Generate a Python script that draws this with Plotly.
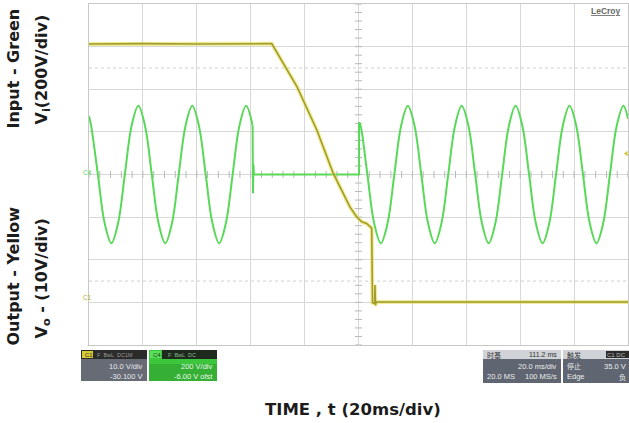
import numpy as np
import plotly.graph_objects as go

# ---- canvas geometry (pixels) ----
W, H = 629, 423
L, R, T, B = 89, 1, 4, 78
PW, PH = W - L - R, H - T - B


def px(x):
    return (x - L) / PW


def py(y):
    return (H - B - y) / PH


# ---- data ----
# time in ms (20 ms/div, 10 div)
# input V_i (green, 200 V/div) : sine before interruption
vin_t_a = [0.0, 0.8, 3.3, 5.8, 8.3, 10.8, 13.3, 15.8, 18.3, 20.8, 23.3, 25.8, 28.3,
           30.8, 33.3, 35.8, 38.3, 40.8, 43.3, 45.8, 48.3, 50.8, 53.3, 55.8, 58.3, 60.7]
vin_v_a = [275, 228, 0, -228, -322, -228, 0, 228, 322, 228, 0, -228, -322,
           -228, 0, 228, 322, 228, 0, -228, -322, -228, 0, 228, 322, 230]

# input during the interruption (switch-off transient, flat, switch-on)
vin_t_b = [60.7, 60.85, 61.05, 61.2, 100.2, 100.2]
vin_v_b = [230, -88, 45, 0, 0, 245]

# input after the supply returns
vin_t_c = [100.2, 100.8, 103.3, 105.8, 108.3, 110.8, 113.3, 115.8, 118.3,
           120.8, 123.3, 125.8, 128.3, 130.8, 133.3, 135.8, 138.3,
           140.8, 143.3, 145.8, 148.3, 150.8, 153.3, 155.8, 158.3,
           160.8, 163.3, 165.8, 168.3, 170.8, 173.3, 175.8, 178.3,
           180.8, 183.3, 185.8, 188.3, 190.8, 193.3, 195.8, 198.3, 200.0]
vin_v_c = [245, 228, 0, -228, -322, -228, 0, 228, 322,
           228, 0, -228, -322, -228, 0, 228, 322,
           228, 0, -228, -322, -228, 0, 228, 322,
           228, 0, -228, -322, -228, 0, 228, 322,
           228, 0, -228, -322, -228, 0, 228, 322, 262]

# output V_o (yellow, 10 V/div, offset -30.1 V)
vout_t = [0.0, 20.0, 40.0, 60.0, 67.8, 77.1, 84.5, 90.6, 96.8, 99.3, 101.2, 103.0,
          104.9, 105.2, 106.0, 106.1, 106.3, 106.6, 150.0, 200.0]
vout_v = [60.7, 60.8, 60.7, 60.8, 60.8, 50.8, 40.6, 30.4, 22.5, 20.2, 19.0, 18.6,
          17.5, 0.0, -0.2, 4.2, -0.6, 0.2, 0.2, 0.2]

trig_level = 35.0

GREEN = "#5ad85a"
YEL_CORE = "#a39b2c"
YEL_GLOW = "rgba(225,220,70,0.55)"
GRID = "#d8d8d8"

fig = go.Figure()

# graticule tick marks on the centre lines
cx = np.arange(0, 200.01, 4.0)
fig.add_trace(go.Scatter(x=cx, y=np.zeros_like(cx), mode="markers",
                         marker=dict(symbol="line-ns", size=5,
                                     line=dict(color="#b8b8b8", width=1)),
                         hoverinfo="skip", showlegend=False))
cy = np.arange(-800, 800.1, 40.0)
fig.add_trace(go.Scatter(x=np.full_like(cy, 100.0), y=cy, mode="markers",
                         marker=dict(symbol="line-ew", size=5,
                                     line=dict(color="#b8b8b8", width=1)),
                         hoverinfo="skip", showlegend=False))

# input traces (green)
for tt, vv, shape in [(vin_t_a, vin_v_a, "spline"),
                      (vin_t_b, vin_v_b, "linear"),
                      (vin_t_c, vin_v_c, "spline")]:
    fig.add_trace(go.Scatter(x=tt, y=vv, mode="lines",
                             line=dict(color=GREEN, width=2, shape=shape),
                             hoverinfo="skip", showlegend=False))

# output trace (yellow) with soft glow
fig.add_trace(go.Scatter(x=vout_t, y=vout_v, mode="lines", yaxis="y2",
                         line=dict(color=YEL_GLOW, width=4),
                         hoverinfo="skip", showlegend=False))
fig.add_trace(go.Scatter(x=vout_t, y=vout_v, mode="lines", yaxis="y2",
                         line=dict(color=YEL_CORE, width=1.6),
                         hoverinfo="skip", showlegend=False))

# trigger level marker
fig.add_trace(go.Scatter(x=[199.4], y=[trig_level], mode="markers", yaxis="y2",
                         marker=dict(symbol="triangle-left", size=5, color="#d6c83a"),
                         hoverinfo="skip", showlegend=False, cliponaxis=False))

shapes = []
# centre cross lines
shapes.append(dict(type="line", xref="x", yref="y", x0=0, x1=200, y0=0, y1=0,
                   line=dict(color="#c4c4c4", width=1), layer="below"))
shapes.append(dict(type="line", xref="x", yref="y", x0=100, x1=100, y0=-800, y1=800,
                   line=dict(color="#c4c4c4", width=1), layer="below"))
# dotted reference lines at +/-2.5 div
for lv in (500, -500):
    shapes.append(dict(type="line", xref="x", yref="y", x0=0, x1=200, y0=lv, y1=lv,
                       line=dict(color="#cfcfcf", width=1, dash="dot"), layer="below"))


def box(x0, y0, x1, y1, fill, line=None):
    shapes.append(dict(type="rect", xref="paper", yref="paper",
                       x0=px(x0), x1=px(x1), y0=py(y1), y1=py(y0),
                       fillcolor=fill, line=dict(width=0 if line is None else 1,
                                                 color=line or fill)))


annotations = []


def label(x, y, text, size=7, color="#f0f0f0", xanchor="left", family="Arial",
          angle=0, bold=False):
    annotations.append(dict(xref="paper", yref="paper", x=px(x), y=py(y),
                            text=text, showarrow=False, xanchor=xanchor,
                            yanchor="middle", textangle=angle,
                            font=dict(size=size, color=color, family=family,
                                      weight="bold" if bold else "normal")))


# channel 1 readout
box(81, 350, 147, 381, "#666b76")
box(81, 350, 147, 359, "#2b2b2b")
box(82, 351, 93, 358, "#d9c935")
label(83, 354.5, "C1", 6, "#333")
label(95, 354.5, "F  BwL  DC1M", 5.5, "#9a9a9a")
label(145, 366.5, "10.0 V/div", 7.5, "#e9e9e9", "right")
label(145, 376.5, "-30.100 V", 7.5, "#e9e9e9", "right")

# channel 4 readout
box(149, 350, 217, 381, "#3cc63c")
box(149, 364, 217, 381, "#35b035")
box(162, 350, 217, 359, "#1f2a1f")
box(150, 351, 161, 358, "#58e058")
label(151, 354.5, "C4", 6, "#1a3a1a")
label(166, 354.5, "F  BwL  DC", 5.5, "#8ab88a")
label(215, 366.5, "200 V/div", 7.5, "#e8f8e8", "right")
label(215, 376.5, "-6.00 V ofst", 7.5, "#e8f8e8", "right")

# timebase readout
box(483, 350, 561, 383, "#5f6571")
box(483, 350, 561, 359, "#cfd2d6")
label(485, 354.5, "时基", 7, "#333", family="Noto Sans CJK SC")
label(559, 354.5, "111.2 ms", 7, "#333", "right")
label(559, 366, "20.0 ms/div", 7.5, "#eeeeee", "right")
label(485, 376.5, "20.0 MS", 7.5, "#eeeeee")
label(559, 376.5, "100 MS/s", 7.5, "#eeeeee", "right")

# trigger readout
box(563, 350, 629, 383, "#5f6571")
box(563, 350, 629, 359, "#cfd2d6")
box(606, 351, 629, 358, "#2b2b2b")
label(565, 354.5, "触发", 7, "#333", family="Noto Sans CJK SC")
label(628, 354.5, "C1 DC", 6, "#bbbbbb", "right")
label(565, 366, "停止", 7, "#eeeeee", family="Noto Sans CJK SC")
label(628, 366, "35.0 V", 7.5, "#eeeeee", "right")
label(565, 376.5, "Edge", 7.5, "#eeeeee")
label(628, 376.5, "负", 7, "#eeeeee", "right", family="Noto Sans CJK SC")

# channel ground markers and brand
label(81, 172, "C4", 6.5, "#5ad85a")
label(81, 297, "C1", 6.5, "#b8ae30")
label(623, 11, "<u>LeCroy</u>", 8.5, "#6a6a6a", "right", bold=True)

# axis captions
TXT = "#1c1c1c"
FONT = "DejaVu Sans"
label(12.5, 69, "Input - Green", 16, TXT, "center", FONT, -90, True)
label(41.5, 70, "V<sub>i</sub>(200V/div)", 16, TXT, "center", FONT, -90, True)
label(12.5, 276, "Output - Yellow", 16, TXT, "center", FONT, -90, True)
label(41.5, 279, "V<sub>o</sub> - (10V/div)", 16, TXT, "center", FONT, -90, True)
label(353, 409, "TIME , t (20ms/div)", 16.5, TXT, "center", FONT, 0, True)

fig.update_layout(
    width=W, height=H,
    margin=dict(l=L, r=R, t=T, b=B),
    paper_bgcolor="white", plot_bgcolor="white",
    showlegend=False,
    shapes=shapes, annotations=annotations,
    xaxis=dict(range=[0, 200], dtick=20, tick0=0, showgrid=True, gridcolor=GRID,
               gridwidth=1, zeroline=False, showticklabels=False, ticks="",
               showline=True, linecolor="#c8c8c8", mirror=True, fixedrange=True),
    yaxis=dict(range=[-800, 800], dtick=200, tick0=0, showgrid=True, gridcolor=GRID,
               gridwidth=1, zeroline=False, showticklabels=False, ticks="",
               showline=True, linecolor="#c8c8c8", mirror=True, fixedrange=True),
    yaxis2=dict(range=[30.1 - 40, 30.1 + 40], overlaying="y", showgrid=False,
                zeroline=False, showticklabels=False, ticks="", showline=False,
                fixedrange=True),
)

fig.write_html("out.html")
